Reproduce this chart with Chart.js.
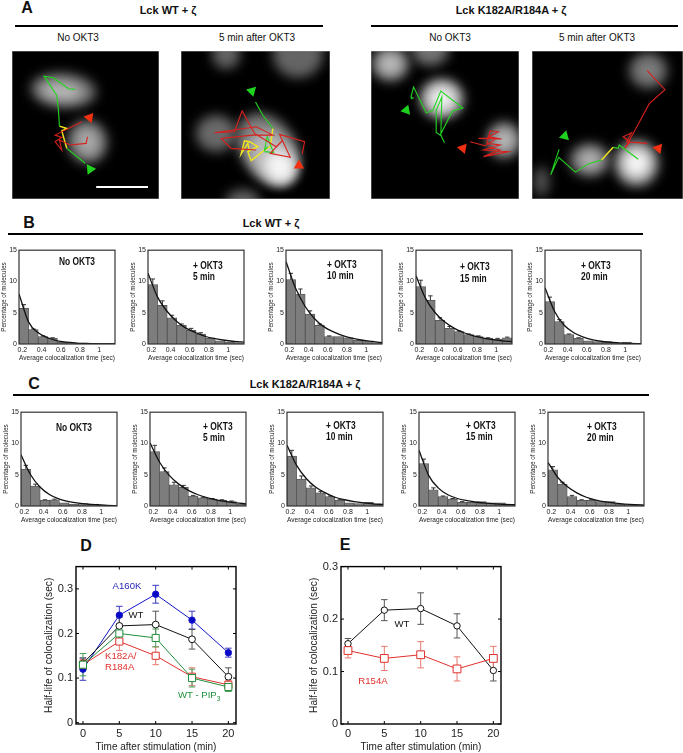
<!DOCTYPE html>
<html>
<head>
<meta charset="utf-8">
<title>Lck colocalization</title>
<script src="https://cdn.jsdelivr.net/npm/chart.js@4/dist/chart.umd.min.js"></script>
<style>
  html, body { margin: 0; padding: 0; background: #fff; }
  #page { position: relative; width: 683px; height: 753px; overflow: hidden; font-family: "Liberation Sans", Arial, sans-serif; color: #111; }
  canvas { position: absolute; filter: blur(0.3px); }
  .t { position: absolute; white-space: nowrap; line-height: 1; }
  .rule { position: absolute; background: #000; height: 2px; }
  sub { font-size: 70%; line-height: 0; }
</style>
</head>
<body>
<div id="page"></div>
<script>
// ---- histogram data (% molecules per bin, error, fitted curve)
const binCenters = [0.215, 0.315, 0.415, 0.515, 0.615, 0.715, 0.815, 0.915, 1.015, 1.115];
const fitX = [0.165, 0.265, 0.365, 0.465, 0.565, 0.665, 0.765, 0.865, 0.965, 1.065, 1.165];
const histYTicks = [0, 5, 10, 15];
const histXTicks = [0.2, 0.4, 0.6, 0.8, 1];

const b1Bars = [5.7, 2.3, 1.2, 0.9, 0.3, 0.2, 0.15, 0.1, 0.1, 0.1];
const b1Errs = [0.6, 0.1, 0.1, 0.1, 0, 0, 0, 0, 0, 0];
const b1Fit = [8, 3.5, 1.8, 1.0, 0.5, 0.3, 0.15, 0.1, 0.05, 0, 0];
const b2Bars = [9.5, 6.2, 4.2, 3.0, 2.2, 1.6, 0.9, 0.5, 0.3, 0.2];
const b2Errs = [0.9, 0.7, 0.4, 0.2, 0.3, 0.2, 0, 0, 0, 0];
const b2Fit = [11.3, 7.5, 5.2, 3.6, 2.5, 1.8, 1.2, 0.85, 0.6, 0.4, 0.3];
const b3Bars = [10.3, 8, 4.8, 3, 1.2, 1.2, 1, 0.6, 0.4, 0.2];
const b3Errs = [1, 0.8, 0.5, 0.2, 0.1, 0, 0, 0, 0, 0];
const b3Fit = [13.2, 8.9, 6, 4, 2.7, 1.9, 1.3, 0.9, 0.6, 0.4, 0.2];
const b4Bars = [9.2, 7, 3.8, 2.5, 2.0, 1.5, 1.2, 0.9, 0.8, 1.0];
const b4Errs = [1, 0.7, 0.4, 0.3, 0.1, 0.1, 0.1, 0.1, 0.1, 0.1];
const b4Fit = [10.9, 7.3, 5, 3.5, 2.5, 1.8, 1.3, 0.95, 0.7, 0.5, 0.4];
const b5Bars = [6.8, 3.6, 1.5, 0.9, 0.5, 0.4, 0.4, 0.1, 0.3, 0.1];
const b5Errs = [0.7, 0.3, 0.1, 0.1, 0, 0, 0, 0, 0, 0];
const b5Fit = [9, 5.2, 3.0, 1.8, 1.1, 0.65, 0.4, 0.25, 0.15, 0.1, 0.05];

const c1Bars = [5.9, 3.2, 0.9, 1.0, 0.5, 0.3, 0.4, 0.3, 0.1, 0.05];
const c1Errs = [0.6, 0.3, 0.1, 0.1, 0, 0, 0, 0, 0, 0];
const c1Fit = [8.2, 5, 3.0, 1.8, 1.1, 0.7, 0.45, 0.3, 0.2, 0.1, 0.05];
const c2Bars = [8.7, 5.5, 3.4, 3.0, 1.6, 1.3, 1.1, 0.9, 0.7, 0.3];
const c2Errs = [1, 0.6, 0.4, 0.3, 0.1, 0.1, 0.1, 0.1, 0.1, 0];
const c2Fit = [10.1, 7.0, 4.9, 3.5, 2.5, 1.8, 1.3, 0.95, 0.7, 0.5, 0.35];
const c3Bars = [8, 4.3, 2.9, 2.1, 1.5, 0.9, 0.5, 0.4, 0.6, 0.3];
const c3Errs = [0.9, 0.5, 0.3, 0.2, 0.1, 0.1, 0, 0, 0, 0];
const c3Fit = [9.7, 6.5, 4.4, 3, 2.1, 1.4, 1, 0.7, 0.5, 0.35, 0.25];
const c4Bars = [6.8, 2.6, 1.5, 1.1, 0.6, 0.6, 0.7, 0.5, 0.5, 0.2];
const c4Errs = [0.7, 0.3, 0.1, 0.1, 0.1, 0, 0, 0, 0, 0];
const c4Fit = [8.9, 4.9, 2.9, 1.8, 1.2, 0.85, 0.6, 0.45, 0.35, 0.25, 0.2];
const c5Bars = [5.8, 3.5, 1.5, 0.9, 0.9, 0.7, 0.7, 0.3, 0.2, 0.2];
const c5Errs = [0.5, 0.3, 0.2, 0.1, 0.1, 0, 0, 0, 0, 0];
const c5Fit = [7, 4.6, 3.1, 2.1, 1.4, 0.95, 0.65, 0.45, 0.3, 0.2, 0.15];

// ---- half-life panels D and E
const minutes = [0, 5, 10, 15, 20];
const halfYTicks = [0, 0.1, 0.2, 0.3];
const a160k = [0.12, 0.241, 0.288, 0.23, 0.157];
const a160kErr = [0.025, 0.02, 0.02, 0.02, 0.01];
const wt = [0.133, 0.217, 0.22, 0.187, 0.103];
const wtErr = [0.012, 0.02, 0.03, 0.022, 0.02];
const k182a = [0.13, 0.182, 0.15, 0.103, 0.085];
const k182aErr = [0.012, 0.02, 0.02, 0.02, 0.01];
const wtPip3 = [0.13, 0.2, 0.19, 0.1, 0.08];
const wtPip3Err = [0.025, 0.015, 0.02, 0.02, 0.01];
const wtE = [0.153, 0.217, 0.22, 0.187, 0.102];
const wtEErr = [0.01, 0.02, 0.03, 0.023, 0.02];
const r154a = [0.14, 0.125, 0.132, 0.105, 0.125];
const r154aErr = [0.014, 0.023, 0.025, 0.023, 0.023];

const a1Green = [[225,267],[205,265],[160,232],[132,227],[170,285],[175,330],[178,378]];
const a1Yellow = [[178,378],[200,385],[185,392],[190,410],[200,445]];
const a1Green2 = [[200,445],[255,490]];
const a1Red = [[245,365],[165,405],[185,412],[165,425],[185,450],[178,420],[210,435],[258,430],[262,410]];
const a1Scale = [[288,562],[443,562]];
const a1Blobs = [[190,270,98,52,0.08,115],[185,272,62,26,0.08,185],[262,425,60,66,-0.2,110],[262,425,34,42,-0.2,170]];
const a1GreenHead = [[270,508]];
const a1RedHead = [[268,352]];

const a2Green = [[768,305],[790,345],[820,385]];
const a2Green2 = [[805,440],[795,450],[803,410],[822,458],[795,455]];
const a2Yellow = [[820,385],[812,440],[795,450],[755,482],[745,455],[775,440],[750,425],[735,422],[725,462],[745,430],[750,455]];
const a2Red = [[908,462],[915,425],[840,403],[872,472],[812,460],[850,420],[830,440],[765,400],[728,332],[705,395],[645,398],[770,380],[820,405],[760,405],[665,415],[695,445],[770,450]];
const a2Blobs = [[680,160,42,45,0,100],[895,160,75,72,0,100],[650,400,60,55,0,105],[730,605,50,35,0,100],[805,445,82,115,-0.6,125],[820,475,62,88,-0.6,185],[840,500,42,48,-0.5,245]];
const a2GreenHead = [[757,272]];
const a2RedHead = [[898,497]];

const a3Green = [[212,296],[218,293],[212,290],[220,260],[258,338],[278,330],[302,272],[368,323],[337,332],[300,405],[290,398],[288,330],[305,290],[302,405],[313,428]];
const a3Red = [[390,425],[435,437],[470,415],[415,415],[485,417],[445,410],[475,395],[450,392],[440,430],[480,435],[430,450],[505,455],[430,470],[480,450],[445,440]];
const a3Blobs = [[150,190,57,52,0,130],[150,190,32,30,0,190],[270,150,55,45,0,115],[305,295,66,60,0,150],[305,295,46,42,0,210],[305,295,26,24,0,250],[492,420,52,55,0,130],[492,420,28,30,0,190]];
const a3GreenHead = [[198,330]];
const a3RedHead = [[368,445]];

const a4Green = [[658,448],[633,525],[657,472],[707,517],[745,492],[785,480]];
const a4Yellow = [[785,480],[820,442]];
const a4Green2 = [[820,442],[835,445],[838,435],[895,478]];
const a4Red = [[922,210],[975,268],[928,310],[880,400],[855,445],[870,425],[850,410],[875,398],[860,425],[922,430]];
const a4Blobs = [[925,210,58,55,0,100],[925,210,30,28,0,130],[605,545,25,45,0,80],[750,480,60,50,0,120],[750,480,30,26,0,185],[890,490,66,70,0,150],[890,490,40,42,0,245]];
const a4GreenHead = [[675,408]];
const a4RedHead = [[955,445]];

const page = document.getElementById('page');
const FONT = '"Liberation Sans", Arial, sans-serif';
Chart.defaults.font.family = FONT;
Chart.defaults.animation = false;
Chart.defaults.responsive = false;
Chart.defaults.devicePixelRatio = 1;
Chart.defaults.layout.autoPadding = false;
Chart.defaults.plugins.legend.display = false;
Chart.defaults.plugins.tooltip.enabled = false;

function addCanvas(left, top, w, h) {
    const c = document.createElement('canvas');
    c.width = w;
    c.height = h;
    c.style.left = left + 'px';
    c.style.top = top + 'px';
    c.style.width = w + 'px';
    c.style.height = h + 'px';
    page.appendChild(c);
    return c;
}

// anchor: 'c' centered on x, 'l' starts at x
function text(str, x, y, size, opts) {
    opts = opts || {};
    const d = document.createElement('div');
    d.className = 't';
    d.innerHTML = str;
    d.style.left = x + 'px';
    d.style.top = y + 'px';
    d.style.fontSize = size + 'px';
    d.style.fontWeight = opts.bold ? 'bold' : 'normal';
    if (opts.color) d.style.color = opts.color;
    const sq = opts.squeeze ? ' scaleX(' + opts.squeeze + ')' : '';
    d.style.transformOrigin = 'left center';
    d.style.transform = opts.anchor === 'l' ? 'translateY(-50%)' + sq : 'translate(-50%,-50%)' + sq;
    page.appendChild(d);
}

function rule(x1, x2, y) {
    const d = document.createElement('div');
    d.className = 'rule';
    d.style.left = x1 + 'px';
    d.style.width = (x2 - x1) + 'px';
    d.style.top = (y - 1) + 'px';
    page.appendChild(d);
}

const framePlugin = {
    id: 'frame',
    afterDraw(chart, args, o) {
        const a = chart.chartArea, ctx = chart.ctx;
        ctx.save();
        ctx.strokeStyle = o.color || '#333';
        ctx.lineWidth = o.width || 1;
        ctx.strokeRect(a.left, a.top, a.right - a.left, a.bottom - a.top);
        ctx.restore();
    }
};

// inward tick marks on all four sides, used by D and E
const inTicksPlugin = {
    id: 'inTicks',
    afterDraw(chart, args, o) {
        if (!o.len) return;
        const a = chart.chartArea, ctx = chart.ctx;
        ctx.save();
        ctx.strokeStyle = '#000';
        ctx.lineWidth = 1;
        ctx.beginPath();
        chart.scales.x.ticks.forEach(t => {
            const x = chart.scales.x.getPixelForValue(t.value);
            ctx.moveTo(x, a.bottom); ctx.lineTo(x, a.bottom - o.len);
            ctx.moveTo(x, a.top); ctx.lineTo(x, a.top + o.len);
        });
        chart.scales.y.ticks.forEach(t => {
            const y = chart.scales.y.getPixelForValue(t.value);
            ctx.moveTo(a.left, y); ctx.lineTo(a.left + o.len, y);
            ctx.moveTo(a.right, y); ctx.lineTo(a.right - o.len, y);
        });
        ctx.stroke();
        ctx.restore();
    }
};

// error bars: any dataset with an errs array gets them, through the chart scales
const errPlugin = {
    id: 'errs',
    beforeDatasetsDraw(chart) {
        const ctx = chart.ctx, xs = chart.scales.x, ys = chart.scales.y;
        ctx.save();
        chart.data.datasets.forEach(ds => {
            if (!ds.errs) return;
            ctx.strokeStyle = ds.errColor;
            ctx.lineWidth = 1;
            ds.errs.forEach((e, i) => {
                if (!e) return;
                const p = ds.data[i];
                const x = xs.getPixelForValue(p.x);
                const hi = ys.getPixelForValue(p.y + e), lo = ys.getPixelForValue(p.y - e);
                ctx.beginPath();
                ctx.moveTo(x, hi); ctx.lineTo(x, lo);
                ctx.moveTo(x - ds.capW, hi); ctx.lineTo(x + ds.capW, hi);
                ctx.moveTo(x - ds.capW, lo); ctx.lineTo(x + ds.capW, lo);
                ctx.stroke();
            });
        });
        ctx.restore();
    }
};

// fluorescence spots behind the tracks; each blob is [x, y, rx, ry, rotation, intensity]
const blobPlugin = {
    id: 'blobs',
    beforeDatasetsDraw(chart, args, o) {
        if (!o.list) return;
        const ctx = chart.ctx, xs = chart.scales.x, ys = chart.scales.y, a = chart.chartArea;
        ctx.save();
        ctx.beginPath();
        ctx.rect(a.left, a.top, a.right - a.left, a.bottom - a.top);
        ctx.clip();
        ctx.filter = 'blur(6px)';
        o.list.forEach(b => {
            const rx = Math.abs(xs.getPixelForValue(b[0] + b[2]) - xs.getPixelForValue(b[0]));
            const ry = Math.abs(ys.getPixelForValue(b[1] + b[3]) - ys.getPixelForValue(b[1]));
            ctx.fillStyle = 'rgb(' + b[5] + ',' + b[5] + ',' + b[5] + ')';
            ctx.beginPath();
            ctx.ellipse(xs.getPixelForValue(b[0]), ys.getPixelForValue(b[1]), rx, ry, b[4], 0, Math.PI * 2);
            ctx.fill();
        });
        ctx.restore();
    }
};

Chart.register(framePlugin, inTicksPlugin, errPlugin, blobPlugin);

function toXY(arr) { return arr.map(p => ({ x: p[0], y: p[1] })); }

function track(arr, color, w) {
    return { type: 'scatter', data: toXY(arr), showLine: true, borderColor: color, borderWidth: w || 1.1, pointRadius: 0, tension: 0 };
}

function head(arr, color, rot) {
    return { type: 'scatter', data: toXY(arr), showLine: false, pointStyle: 'triangle', pointRadius: 6, pointRotation: rot, backgroundColor: color, borderColor: color, borderWidth: 0 };
}

function frameChart(left, top, w, h, xr, yr, blobs, datasets) {
    const c = addCanvas(left, top, w, h);
    new Chart(c, {
        type: 'scatter',
        data: { datasets: datasets },
        options: {
            layout: { padding: 0 },
            plugins: { frame: { color: '#888', width: 1 }, blobs: { list: blobs } },
            scales: {
                x: { type: 'linear', display: false, min: xr[0], max: xr[1] },
                y: { type: 'linear', display: false, min: yr[0], max: yr[1], reverse: true }
            }
        },
        plugins: [{
            id: 'bg',
            beforeDraw(chart) {
                chart.ctx.fillStyle = '#000';
                chart.ctx.fillRect(0, 0, chart.width, chart.height);
            }
        }]
    });
}

const GREEN = '#22d41f', RED = '#d9201c', YELLOW = '#f2e61e';

frameChart(12, 51, 147, 148, [36, 476], [151, 598], a1Blobs, [
    track(a1Red, RED), track(a1Green, GREEN), track(a1Green2, GREEN), track(a1Yellow, YELLOW, 1.4),
    track(a1Scale, '#fff', 2), head(a1GreenHead, '#1fd21f', -35), head(a1RedHead, '#f03010', -80)
]);
frameChart(181, 51, 149, 148, [545, 991], [151, 598], a2Blobs, [
    track(a2Red, RED), track(a2Green, GREEN), track(a2Green2, GREEN), track(a2Yellow, YELLOW, 1.4),
    head(a2GreenHead, '#1fd21f', 165), head(a2RedHead, '#f03010', 0)
]);
frameChart(371, 51, 148, 148, [92, 537], [151, 598], a3Blobs, [
    track(a3Green, GREEN), track(a3Red, RED),
    head(a3GreenHead, '#1fd21f', 20), head(a3RedHead, '#f03010', -80)
]);
frameChart(532, 51, 151, 148, [577, 1029], [151, 598], a4Blobs, [
    track(a4Green, GREEN), track(a4Yellow, YELLOW, 1.4), track(a4Green2, GREEN), track(a4Red, RED),
    head(a4GreenHead, '#1fd21f', 15), head(a4RedHead, '#f03010', -80)
]);

// histogram panels
function histChart(L, T, W, H, bars, errs, fit) {
    const mL = 19, mR = 3, mT = 5, mB = 18;
    const c = addCanvas(L - mL, T - mT, mL + W + mR, mT + H + mB);
    new Chart(c, {
        type: 'bar',
        data: {
            datasets: [
                { type: 'line', data: fitX.map((x, i) => ({ x: x, y: fit[i] })), borderColor: '#111', borderWidth: 1.3, pointRadius: 0, cubicInterpolationMode: 'monotone', order: 0 },
                { type: 'bar', data: binCenters.map((x, i) => ({ x: x, y: bars[i] })), backgroundColor: '#7d7d7d', borderColor: '#4f4f4f', borderWidth: 0.8, barPercentage: 1, categoryPercentage: 1, errs: errs, errColor: '#333', capW: 2.2, order: 1 }
            ]
        },
        options: {
            layout: { padding: { top: mT, right: mR } },
            plugins: { frame: { color: '#333', width: 1.2 } },
            scales: {
                x: {
                    type: 'linear', offset: false, min: 0.165, max: 1.165,
                    grid: { display: false, drawTicks: false },
                    border: { display: false },
                    afterBuildTicks(s) { s.ticks = histXTicks.map(v => ({ value: v })); },
                    afterFit(s) { s.height = mB; },
                    ticks: { autoSkip: false, maxRotation: 0, padding: 2, color: '#222', font: { size: 7 }, callback: v => String(v) },
                    title: { display: true, text: 'Average colocalization time (sec)', color: '#222', padding: 0, font: { size: 6.8 } }
                },
                y: {
                    min: 0, max: 15,
                    grid: { display: false, drawTicks: false },
                    border: { display: false },
                    afterBuildTicks(s) { s.ticks = histYTicks.map(v => ({ value: v })); },
                    afterFit(s) { s.width = mL; },
                    ticks: { autoSkip: false, padding: 2, color: '#222', font: { size: 7 }, callback: v => String(v) },
                    title: { display: true, text: 'Percentage of molecules', color: '#222', padding: 0, font: { size: 6.3 } }
                }
            }
        }
    });
}

const histH = 95, histW = 96;
histChart(19, 249, histW, histH, b1Bars, b1Errs, b1Fit);
histChart(148, 249, histW, histH, b2Bars, b2Errs, b2Fit);
histChart(286, 249, histW, histH, b3Bars, b3Errs, b3Fit);
histChart(416, 249, histW, histH, b4Bars, b4Errs, b4Fit);
histChart(545, 249, histW, histH, b5Bars, b5Errs, b5Fit);
histChart(21, 411, histW, histH, c1Bars, c1Errs, c1Fit);
histChart(150, 411, histW, histH, c2Bars, c2Errs, c2Fit);
histChart(287, 411, histW, histH, c3Bars, c3Errs, c3Fit);
histChart(419, 411, histW, histH, c4Bars, c4Errs, c4Fit);
histChart(548, 411, histW, histH, c5Bars, c5Errs, c5Fit);

// half-life panels
function series(ys, errs, color, errColor, style, radius, fill, z) {
    return {
        type: 'line',
        data: minutes.map((m, i) => ({ x: m, y: ys[i] })),
        borderColor: color, borderWidth: 1,
        pointStyle: style, pointRadius: radius,
        pointBackgroundColor: fill, pointBorderColor: color, pointBorderWidth: 1,
        tension: 0, clip: false,
        errs: errs, errColor: errColor, capW: 3.3, order: z
    };
}

function halfChart(L, T, W, H, xr, yr, datasets) {
    const mL = 33, mR = 6, mT = 7, mB = 29;
    const c = addCanvas(L - mL, T - mT, mL + W + mR, mT + H + mB);
    new Chart(c, {
        type: 'line',
        data: { datasets: datasets },
        options: {
            layout: { padding: { top: mT, right: mR } },
            plugins: { frame: { color: '#000', width: 1.4 }, inTicks: { len: 3 } },
            scales: {
                x: {
                    type: 'linear', min: xr[0], max: xr[1],
                    grid: { display: false, drawTicks: false },
                    border: { display: false },
                    afterBuildTicks(s) { s.ticks = minutes.map(v => ({ value: v })); },
                    afterFit(s) { s.height = mB; },
                    ticks: { autoSkip: false, maxRotation: 0, padding: 3, color: '#222', font: { size: 11 }, callback: v => String(v) },
                    title: { display: true, text: 'Time after stimulation (min)', color: '#222', padding: 0, font: { size: 10 } }
                },
                y: {
                    min: yr[0], max: yr[1],
                    grid: { display: false, drawTicks: false },
                    border: { display: false },
                    afterBuildTicks(s) { s.ticks = halfYTicks.map(v => ({ value: v })); },
                    afterFit(s) { s.width = mL; },
                    ticks: { autoSkip: false, padding: 3, color: '#222', font: { size: 11 }, callback: v => String(v) },
                    title: { display: true, text: 'Half-life of colocalization (sec)', color: '#222', padding: 0, font: { size: 10.2 } }
                }
            }
        }
    });
}

halfChart(76, 564, 160, 160, [-0.96, 21.05], [-0.003, 0.35], [
    series(a160k, a160kErr, '#1414c8', '#3a3ac0', 'circle', 3.2, '#0808c8', 4),
    series(wt, wtErr, '#111', '#555', 'circle', 3.4, '#fff', 3),
    series(k182a, k182aErr, '#e0302c', '#e87a70', 'rect', 5, '#fff', 2),
    series(wtPip3, wtPip3Err, '#1f8f3a', '#4a9f5a', 'rect', 5, '#fff', 1)
]);
halfChart(341, 564, 160, 160, [-0.96, 21.05], [0, 0.3], [
    series(wtE, wtEErr, '#111', '#555', 'circle', 3.2, '#fff', 2),
    series(r154a, r154aErr, '#e0302c', '#e87a70', 'rect', 5.5, '#fff', 1)
]);

// ---- headers and labels
text('A', 27, 8, 16, { bold: true });
text('B', 29, 223, 16, { bold: true });
text('C', 34, 384, 16, { bold: true });
text('D', 86, 546, 16, { bold: true });
text('E', 345, 545, 16, { bold: true });

text('Lck WT + ζ', 168, 10, 11, { bold: true });
text('Lck K182A/R184A + ζ', 511, 10, 11, { bold: true });
rule(15, 323, 26);
rule(371, 678, 26);
text('No OKT3', 78, 38, 10);
text('5 min after OKT3', 257, 38, 10);
text('No OKT3', 450, 38, 10);
text('5 min after OKT3', 597, 38, 10);

text('Lck WT + ζ', 271, 223, 11, { bold: true });
rule(8, 643, 234);
text('Lck K182A/R184A + ζ', 305, 384, 11, { bold: true });
rule(13, 649, 395);

const noteOpts = { bold: true, anchor: 'l', squeeze: 0.84 };
const noteSize = 10;
text('No OKT3', 59, 262, noteSize, noteOpts);
text('+ OKT3', 193, 266, noteSize, noteOpts);
text('5 min', 193, 277, noteSize, noteOpts);
text('+ OKT3', 327, 265, noteSize, noteOpts);
text('10 min', 327, 276, noteSize, noteOpts);
text('+ OKT3', 460, 267, noteSize, noteOpts);
text('15 min', 460, 279, noteSize, noteOpts);
text('+ OKT3', 581, 266, noteSize, noteOpts);
text('20 min', 581, 277, noteSize, noteOpts);
text('No OKT3', 56, 428, noteSize, noteOpts);
text('+ OKT3', 203, 427, noteSize, noteOpts);
text('5 min', 203, 438, noteSize, noteOpts);
text('+ OKT3', 326, 426, noteSize, noteOpts);
text('10 min', 326, 437, noteSize, noteOpts);
text('+ OKT3', 466, 426, noteSize, noteOpts);
text('15 min', 466, 437, noteSize, noteOpts);
text('+ OKT3', 587, 427, noteSize, noteOpts);
text('20 min', 587, 438, noteSize, noteOpts);

text('A160K', 127, 586, 9.6, { color: '#2a2ab8' });
text('WT', 136, 615, 9.6, { color: '#111' });
text('K182A/', 105, 656, 9.6, { color: '#e0302c', anchor: 'l' });
text('R184A', 105, 667, 9.6, { color: '#e0302c', anchor: 'l' });
text('WT - PIP<sub>3</sub>', 178, 695, 9.6, { color: '#1f8f3a', anchor: 'l' });
text('WT', 402, 624, 9.6, { color: '#111' });
text('R154A', 373, 681, 9.6, { color: '#e0302c' });
</script>
</body>
</html>
